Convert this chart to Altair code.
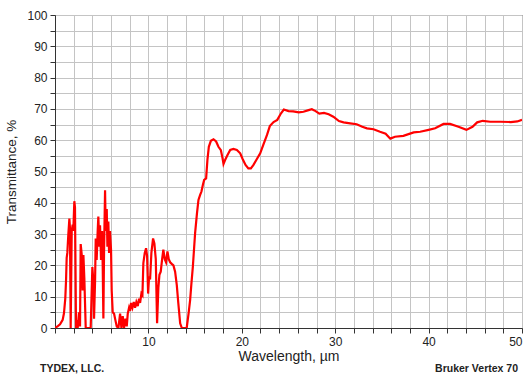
import altair as alt
import pandas as pd

# Infrared transmittance spectrum, wavelength in micrometres
wavelength_um = [
    0.0, 0.3, 0.54, 0.82, 0.96, 1.1, 1.18, 1.25, 1.32, 1.43, 1.54, 1.6, 1.68, 1.79, 1.89, 1.96,
    2.07, 2.14, 2.25, 2.36, 2.43, 2.57, 2.68, 2.75, 2.86, 2.96, 3.04, 3.14, 3.29, 3.82, 4.0, 4.11,
    4.18, 4.29, 4.36, 4.46, 4.57, 4.64, 4.75, 4.82, 4.93, 5.04, 5.11, 5.18, 5.25, 5.36, 5.43, 5.54,
    5.61, 5.71, 5.79, 5.89, 6.0, 6.07, 6.18, 6.32, 6.46, 6.61, 6.79, 6.97, 7.11, 7.25, 7.39, 7.54,
    7.68, 7.79, 7.93, 8.04, 8.14, 8.29, 8.43, 8.57, 8.71, 8.86, 9.0, 9.11, 9.25, 9.36, 9.46, 9.61,
    9.75, 9.86, 9.97, 10.07, 10.18, 10.32, 10.5, 10.64, 10.79, 10.93, 11.07, 11.18, 11.32, 11.47,
    11.6, 11.75, 11.89, 12.04, 12.18, 12.33, 12.5, 12.68, 12.86, 13.04, 13.2, 13.4, 13.58, 14.1,
    14.3, 14.47, 14.6, 14.76, 15.0, 15.2, 15.36, 15.54, 15.68, 15.83, 15.97, 16.18, 16.32, 16.47,
    16.69, 16.97, 17.25, 17.5, 17.76, 17.94, 18.04, 18.2, 18.47, 18.76, 19.1, 19.47, 19.83, 20.1,
    20.4, 20.7, 20.97, 21.25, 21.6, 21.97, 22.3, 22.7, 23.0, 23.4, 23.8, 24.2, 24.5, 25.0, 25.5,
    26.1, 26.6, 27.15, 27.5, 27.9, 28.3, 28.8, 29.3, 29.8, 30.4, 30.9, 31.6, 32.3, 32.9, 33.4,
    34.1, 34.8, 35.4, 35.9, 36.4, 37.3, 38.4, 39.1, 40.0, 40.7, 41.6, 42.3, 43.2, 44.05, 44.7,
    45.2, 45.8, 46.6, 47.7, 48.8, 49.5, 50.0,
]
transmittance_pct = [
    0, 0.6, 1.2, 2.6, 4.7, 9.4, 15, 22.4, 24, 30, 35, 32, 0, 31, 33, 31,
    40.5, 38.5, 0, 2.5, 0, 5, 0.5, 26.8, 23.5, 12, 23.3, 16, 0, 0, 19.5, 15,
    3, 15, 28.6, 21.7, 31, 35.6, 26, 32.8, 21.7, 31, 19.5, 3, 24, 44, 31, 38,
    26, 34, 24, 31, 25, 12, 5, 4.6, 2.6, 0.5, 0, 4.6, 0, 3.8, 0, 3,
    0.5, 4.6, 6.5, 5.5, 8, 6.5, 8.3, 6.5, 8.3, 7, 9.4, 8, 11, 10.5, 20.7, 24,
    25.5, 23, 11, 16.5, 15.5, 24, 28.6, 27, 22, 1.5, 13, 17, 18, 22,
    25, 22, 21, 24.5, 22, 21, 20.5, 20, 18, 13.7, 8, 1.5, 0, 0,
    4.6, 9, 14, 19.6, 30.3, 36.6, 40.9, 42.5, 43.6, 45.7, 47.3, 47.8, 53.7, 57.9,
    59.8, 60.3, 59.6, 57.9, 56.8, 54.2, 52.4, 53.6, 55.3, 56.9, 57.2, 56.9, 55.8, 53.9,
    52.1, 51, 51, 52.1, 53.9, 55.8, 58.5, 61.7, 64.5, 65.8, 66.5, 68.6, 69.8, 69.3, 69.2,
    68.9, 69.1, 69.6, 69.9, 69.3, 68.5, 68.7, 68.3, 67.5, 66.1, 65.7, 65.4, 65.1, 64.3, 63.8,
    63.5, 62.7, 62.1, 60.5, 61.1, 61.4, 62.5, 62.7, 63.3, 63.8, 65.2, 65.2, 64.3, 63.3, 64.3,
    65.7, 66.2, 65.9, 65.9, 65.8, 66, 66.5,
]

x_ticks = list(range(0, 51, 2))
y_ticks = list(range(0, 101, 5))

spectrum = pd.DataFrame({"wavelength": wavelength_um, "transmittance": transmittance_pct})

FONT = "Liberation Sans"

line = alt.Chart(spectrum).mark_line(color="#ff0000", strokeWidth=2.2, clip=True).encode(
    x=alt.X(
        "wavelength:Q",
        scale=alt.Scale(domain=[0, 50], nice=False, zero=False),
        axis=alt.Axis(
            title="Wavelength, µm",
            values=x_ticks,
            labelExpr="datum.value % 10 === 0 && datum.value > 0 ? datum.label : ''",
            labelOverlap=False,
            labelFontSize=12,
            labelPadding=3,
            tickSize=5,
            titleFontSize=14,
            titlePadding=2,
        ),
    ),
    y=alt.Y(
        "transmittance:Q",
        scale=alt.Scale(domain=[0, 100], nice=False),
        axis=alt.Axis(
            title="Transmittance, %",
            values=y_ticks,
            labelExpr="datum.value % 10 === 0 ? datum.label : ''",
            labelOverlap=False,
            labelFontSize=12,
            labelPadding=3,
            tickSize=5,
            titleFontSize=13.5,
            titlePadding=8,
        ),
    ),
)

left_note = alt.Chart(pd.DataFrame({"t": ["TYDEX, LLC."]})).mark_text(
    align="left", baseline="middle", fontSize=10.5, fontWeight="bold", font=FONT, color="#222222"
).encode(x=alt.value(-15), y=alt.value(354), text="t:N")

right_note = alt.Chart(pd.DataFrame({"t": ["Bruker Vertex 70"]})).mark_text(
    align="right", baseline="middle", fontSize=10.5, fontWeight="bold", font=FONT, color="#222222"
).encode(x=alt.value(463), y=alt.value(354), text="t:N")

chart = (
    alt.layer(line, left_note, right_note)
    .properties(
        width=467,
        height=313,
        autosize=alt.AutoSizeParams(type="none"),
        padding={"left": 55, "top": 15, "right": 6, "bottom": 48},
        background="white",
    )
    .configure_axis(
        grid=True,
        gridColor="#c4c4c4",
        gridWidth=1,
        domainColor="#333333",
        domainWidth=1,
        tickColor="#333333",
        labelColor="#222222",
        titleColor="#222222",
        labelFont=FONT,
        titleFont=FONT,
        titleFontWeight="normal",
    )
    .configure_view(stroke="#333333", strokeWidth=1)
)

chart.save("out.html", embed_options={"renderer": "svg", "actions": False})
